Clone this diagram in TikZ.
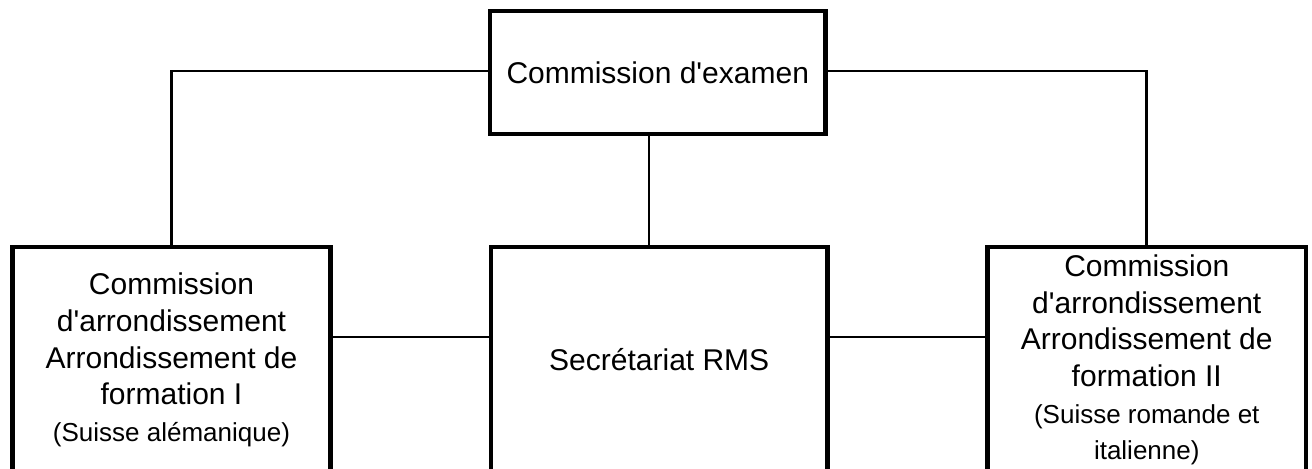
\documentclass[tikz,border=0pt]{standalone}
\usepackage{fontspec}
\setmainfont{Liberation Sans}
\newcommand{\smalltxt}{\fontsize{19.5}{25}\selectfont}
\begin{document}
\begin{tikzpicture}[x=0.75pt,y=-0.75pt,
  box/.style={draw, line width=3.5pt, inner sep=0pt, outer sep=0pt, align=center,
    font=\fontsize{22.5}{27.5}\selectfont},
  link/.style={line width=2.1pt}]
\useasboundingbox (0,0) rectangle (1312,468);
\clip (0,0) rectangle (1312,468);
\fill[white] (0,0) rectangle (1312,468);
\node[box, minimum width=251.6pt, minimum height=92.25pt] (top) at (657.75,72.5) {Commission d\textquotesingle examen};
\node[box, minimum width=238.5pt, minimum height=169.5pt] (left) at (171.5,360)
  {Commission\\d\textquotesingle arrondissement\\Arrondissement de\\formation I\\{\smalltxt (Suisse alémanique)}};
\node[box, minimum width=252.4pt, minimum height=169.5pt] (mid) at (659.25,360) {Secrétariat RMS};
\node[box, minimum width=238.9pt, minimum height=169.5pt] (right) at (1146.75,360)
  {Commission\\d\textquotesingle arrondissement\\Arrondissement de\\formation II\\{\smalltxt (Suisse romande et}\\{\smalltxt italienne)}};
\coordinate (ty) at (0,71);
\coordinate (vx) at (649,0);
\coordinate (hy) at (0,337);
\draw[link] (top.west |- ty) -| (left.north);
\draw[link] (top.east |- ty) -| (right.north);
\draw[link] (top.south -| vx) -- (mid.north -| vx);
\draw[link] (left.east |- hy) -- (mid.west |- hy);
\draw[link] (mid.east |- hy) -- (right.west |- hy);
\end{tikzpicture}
\end{document}
